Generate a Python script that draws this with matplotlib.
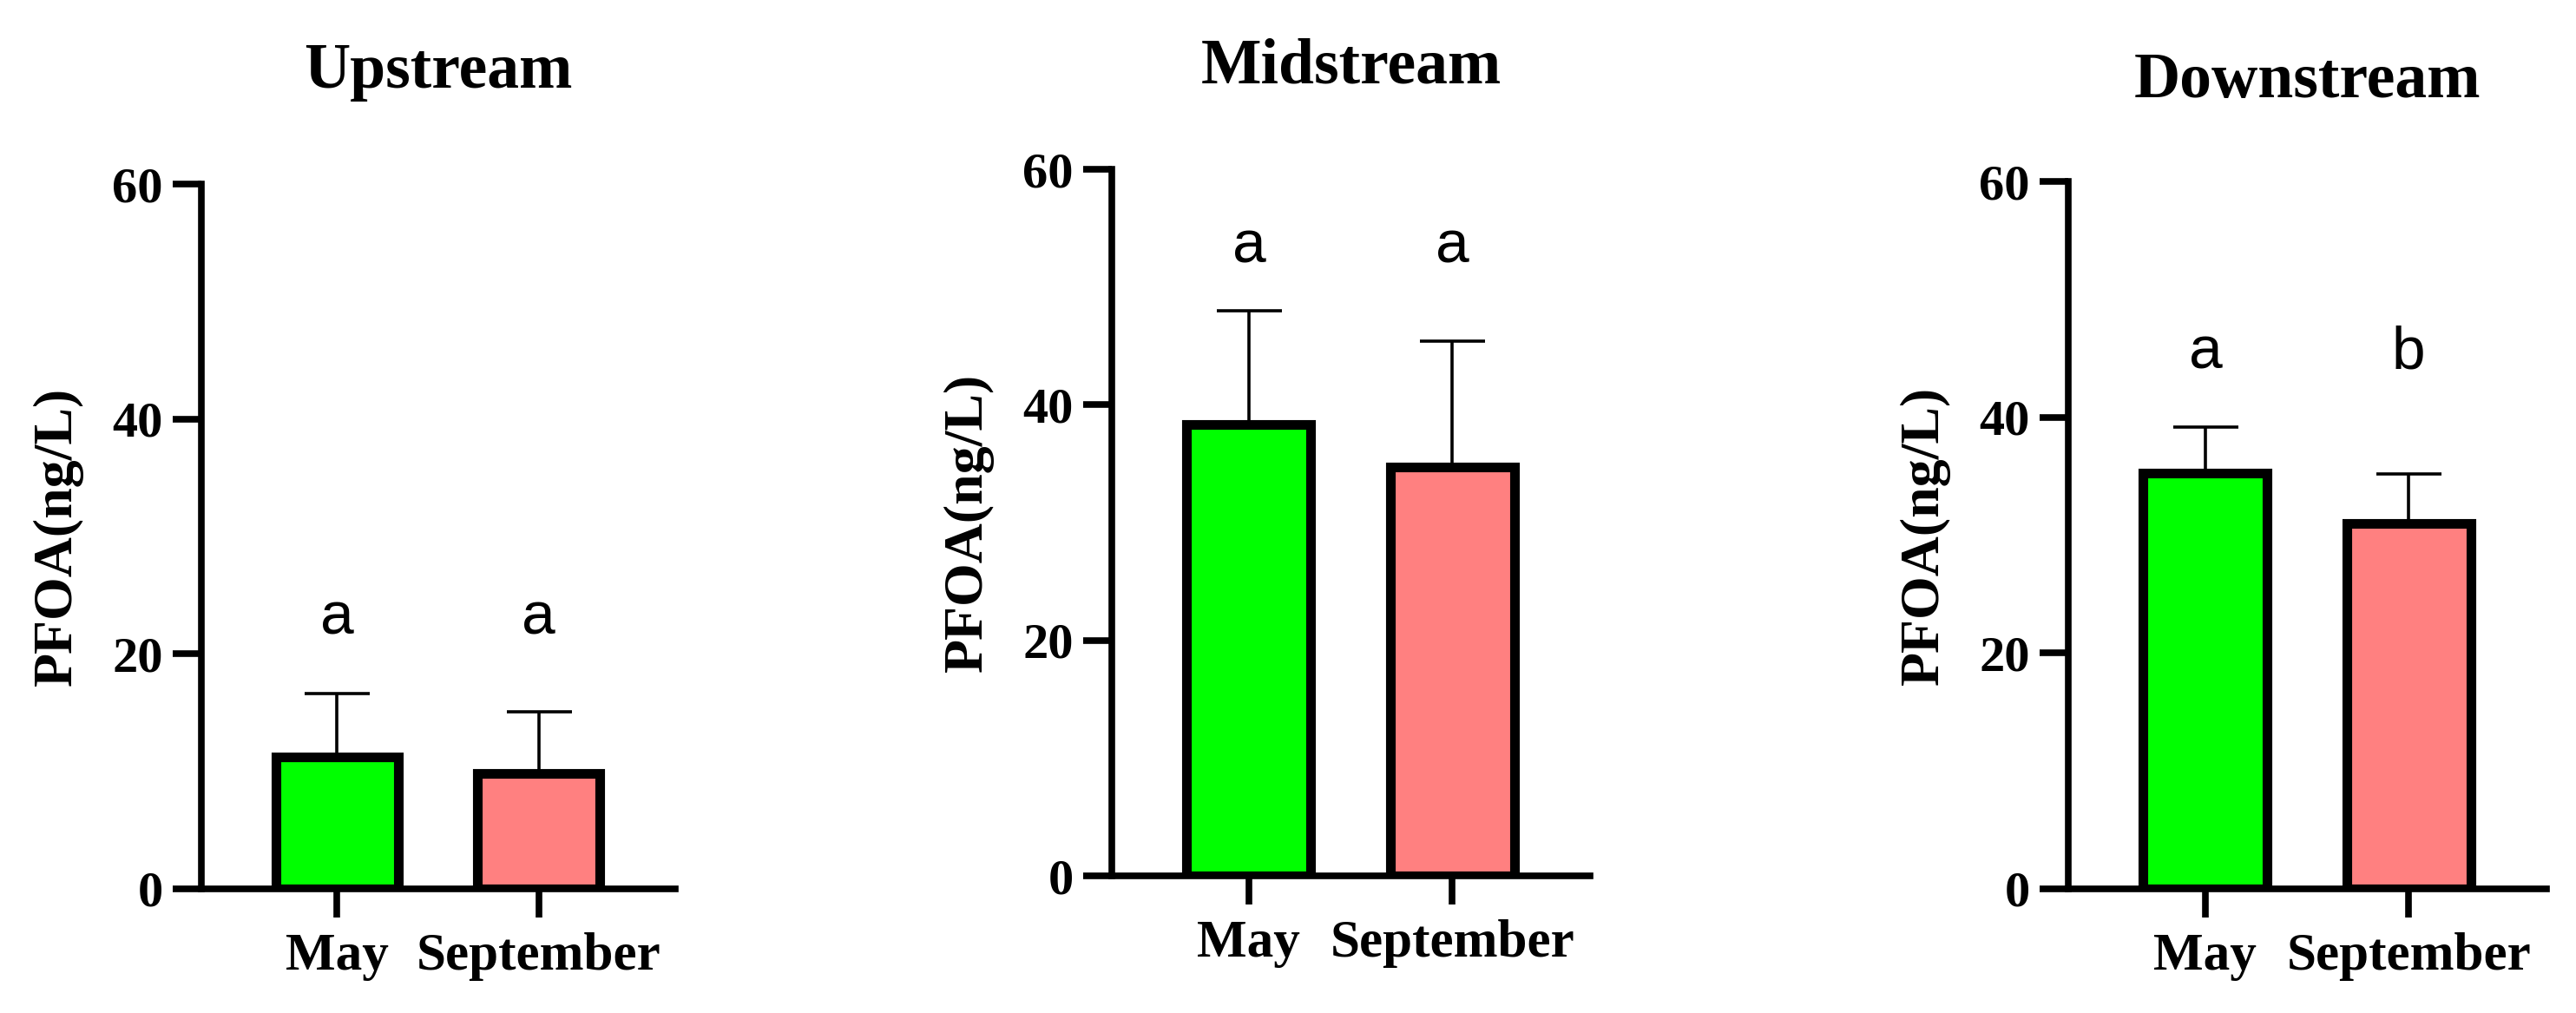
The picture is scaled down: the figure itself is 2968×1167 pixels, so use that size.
import matplotlib
matplotlib.use("Agg")
import matplotlib.pyplot as plt

# ---- data ----
sites = ["Upstream", "Midstream", "Downstream"]
months = ["May", "September"]
means = {
    "Upstream": [11.2, 9.8],
    "Midstream": [38.3, 34.7],
    "Downstream": [35.3, 31.0],
}
upper_err = {
    "Upstream": [5.4, 5.3],
    "Midstream": [9.7, 10.7],
    "Downstream": [3.9, 4.2],
}
letters = {
    "Upstream": ["a", "a"],
    "Midstream": ["a", "a"],
    "Downstream": ["a", "b"],
}
letter_y = {
    "Upstream": 21.7,
    "Midstream": 52.1,
    "Downstream": 44.1,
}
ylabel = "PFOA(ng/L)"
yticks = [0, 20, 40, 60]
bar_colors = ["#00FF00", "#FF8080"]

# ---- layout (pixels in a 2968x1167 canvas) ----
W, H = 2968, 1167
axes_px = {  # left, right, top, bottom
    "Upstream": (232, 778, 212, 1024),
    "Midstream": (1281, 1832, 195, 1009),
    "Downstream": (2383, 2934, 209, 1024),
}
title_baseline_px = {"Upstream": 101, "Midstream": 95, "Downstream": 112}

serif = ["Liberation Serif", "DejaVu Serif"]
sans = ["Liberation Sans", "DejaVu Sans"]

fig = plt.figure(figsize=(W / 100, H / 100), dpi=100)

for site in sites:
    l, r, t, b = axes_px[site]
    ax = fig.add_axes([l / W, (H - b) / H, (r - l) / W, (b - t) / H])
    x = list(range(len(months)))
    ax.errorbar(x, means[site], yerr=[[0] * len(months), upper_err[site]],
                fmt="none", ecolor="black", elinewidth=2.6, capsize=27,
                capthick=2.6, zorder=1)
    ax.bar(x, means[site], width=0.61, color=bar_colors, edgecolor="black",
           linewidth=8, zorder=2)
    for xi, lab in zip(x, letters[site]):
        ax.text(xi, letter_y[site], lab, ha="center", va="baseline",
                fontsize=50, family=sans, color="black")
    ax.set_ylim(0, 60)
    ax.set_xlim(-0.674, 1.678)
    ax.set_yticks(yticks)
    ax.set_yticklabels([str(v) for v in yticks])
    ax.set_xticks(x)
    ax.set_xticklabels(months)
    for s in ["top", "right"]:
        ax.spines[s].set_visible(False)
    for s in ["left", "bottom"]:
        ax.spines[s].set_linewidth(5.5)
        ax.spines[s].set_capstyle("projecting")
    ax.tick_params(axis="both", length=24, width=5.5, color="black")
    ax.tick_params(axis="y", pad=8)
    ax.tick_params(axis="x", pad=12)
    for lbl in ax.get_yticklabels():
        lbl.set_fontfamily(serif)
        lbl.set_fontweight("bold")
        lbl.set_fontsize(42)
    for lbl in ax.get_xticklabels():
        lbl.set_fontfamily(serif)
        lbl.set_fontweight("bold")
        lbl.set_fontsize(44)
    ax.text(-165 / (r - l), 0.5, ylabel, transform=ax.transAxes,
            rotation=90, ha="center", va="center", fontsize=46,
            fontweight="bold", family=serif)
    fig.text(((l + r) / 2) / W, 1 - title_baseline_px[site] / H, site,
             ha="center", va="baseline", fontsize=53, fontweight="bold",
             family=serif)

fig.savefig("out.png", dpi=100, facecolor="white")
